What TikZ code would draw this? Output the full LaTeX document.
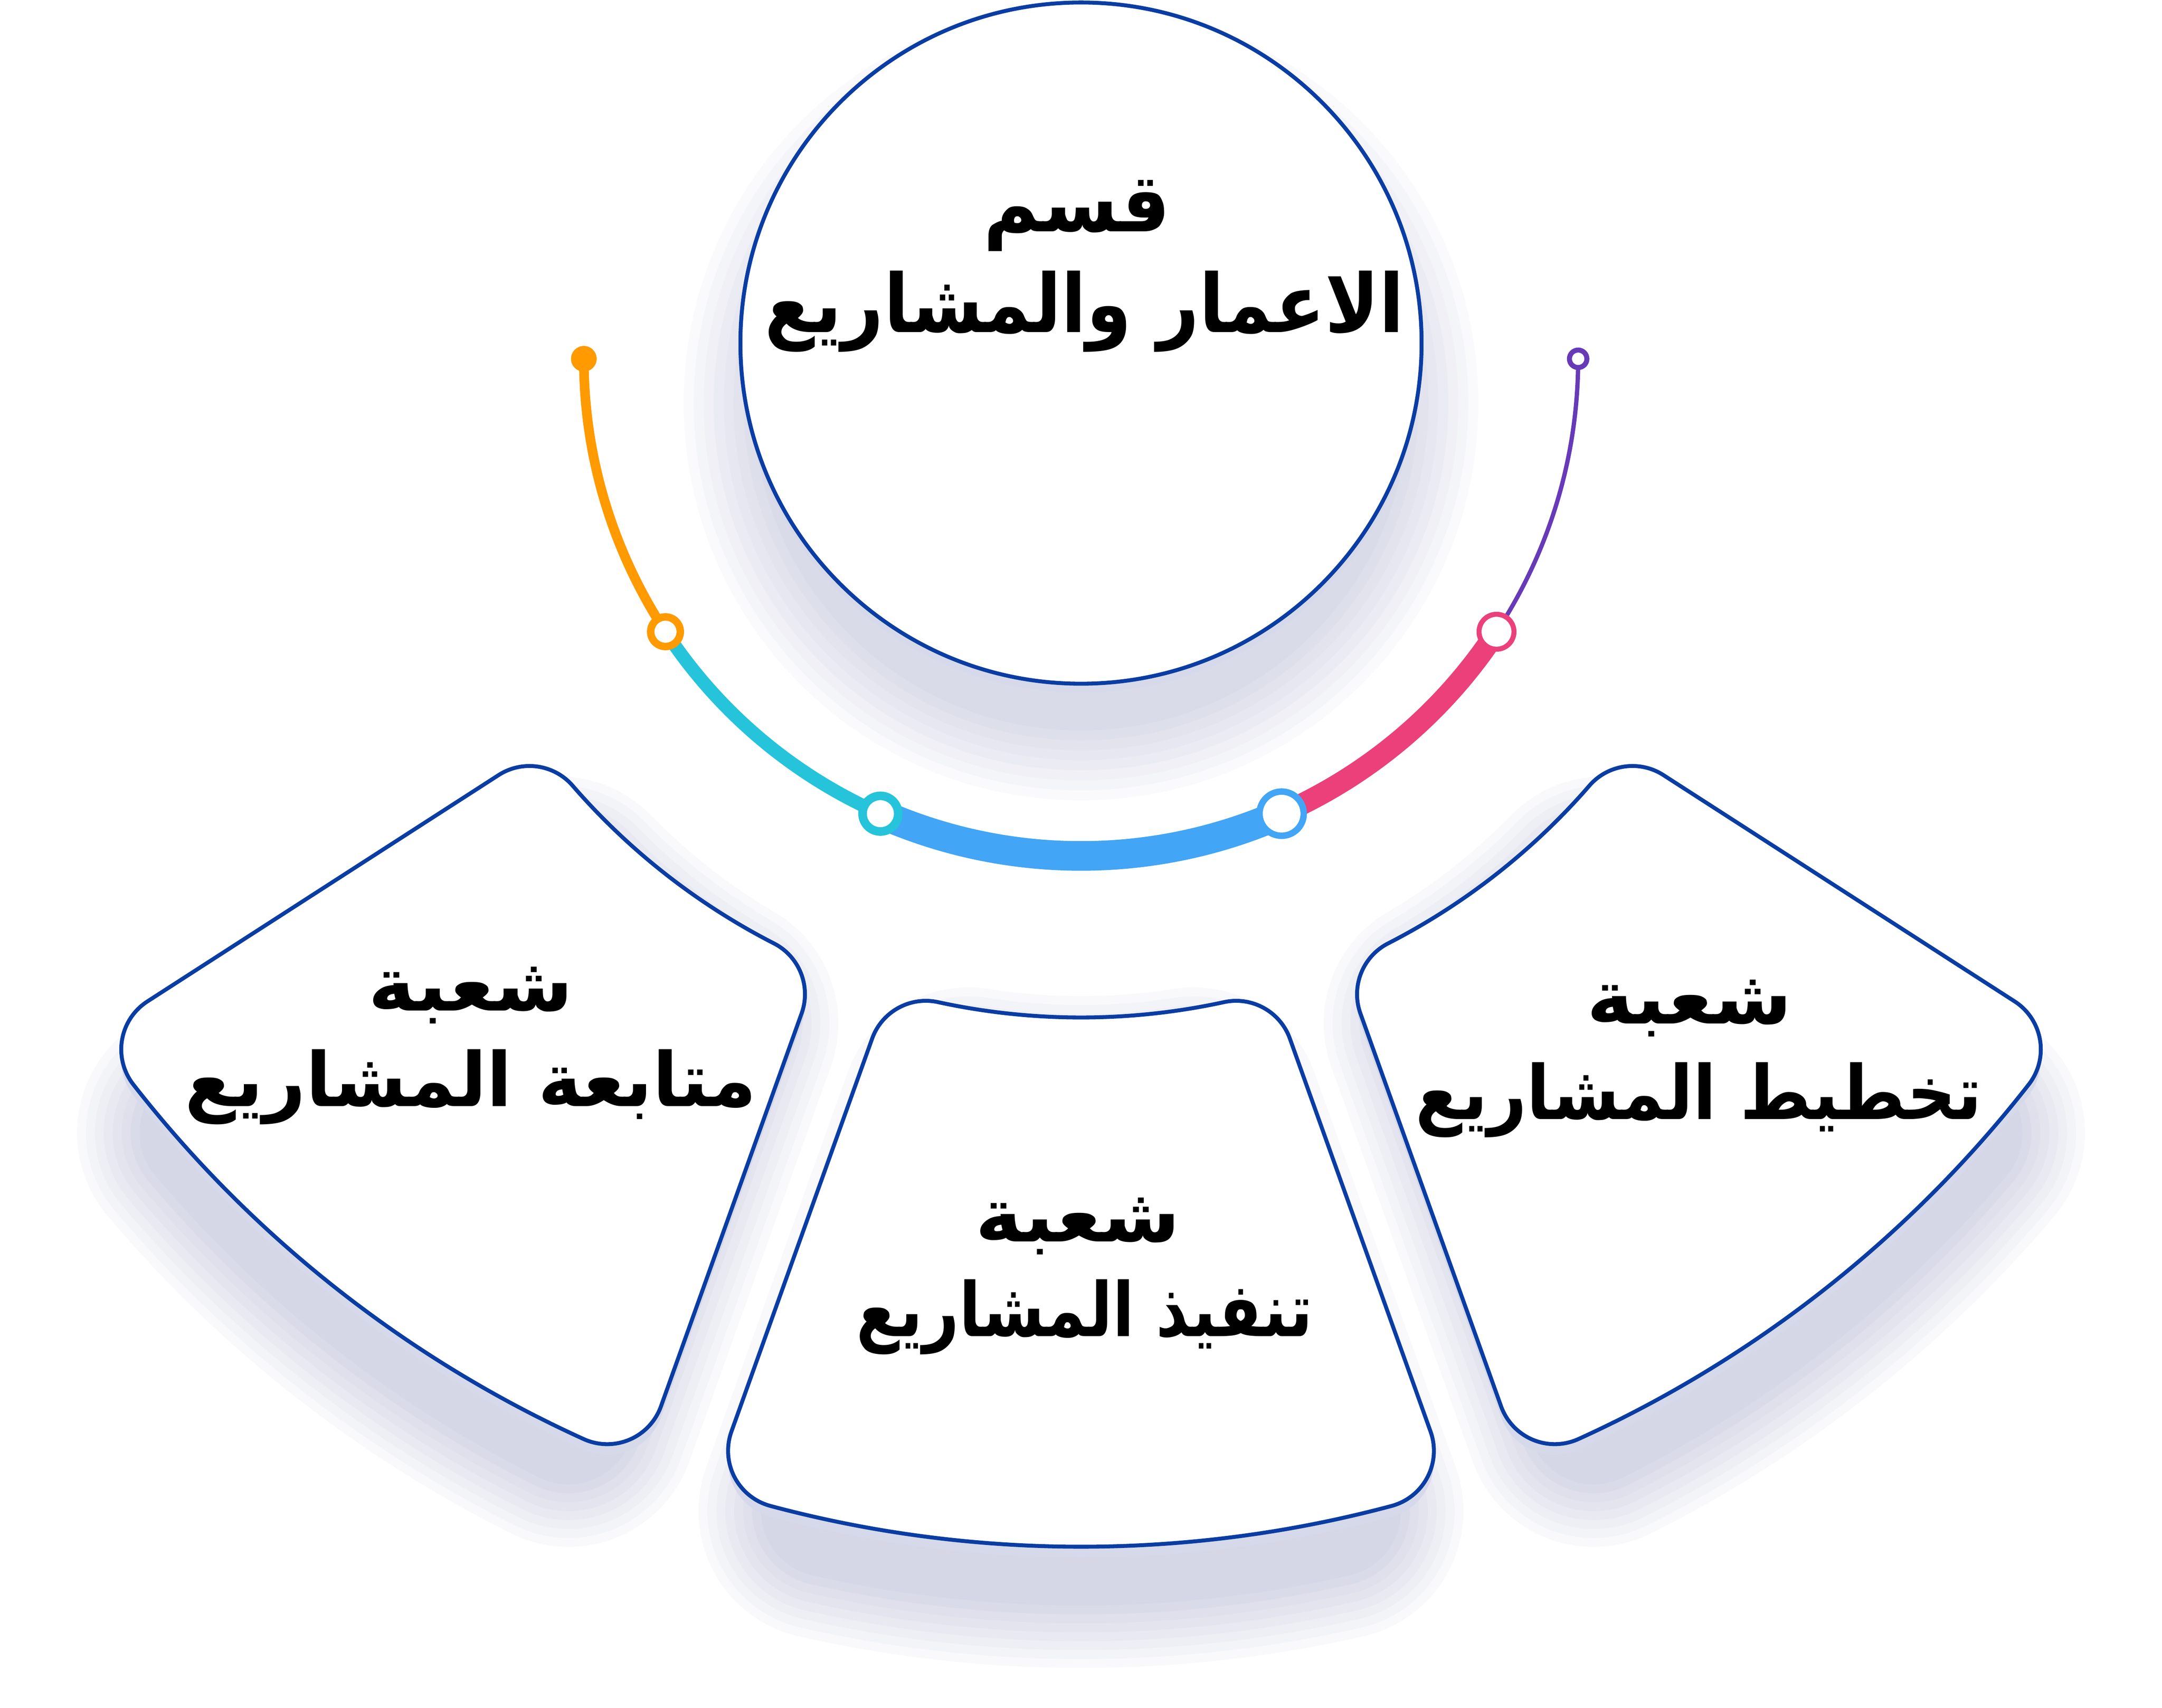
\documentclass[tikz,border=0pt]{standalone}
\usepackage{fontspec}
\TeXXeTstate=1
\newfontfamily\arabicfont[Script=Arabic]{DejaVu Sans}
\definecolor{edgeblue}{RGB}{10,61,163}
\definecolor{corange}{RGB}{255,154,0}
\definecolor{ccyan}{RGB}{37,196,218}
\definecolor{cblue}{RGB}{66,165,245}
\definecolor{cpink}{RGB}{236,64,122}
\definecolor{cpurple}{RGB}{103,58,183}
\definecolor{lipcol}{RGB}{213,217,233}
\definecolor{shadowcol}{RGB}{105,110,165}
\newcommand\CenX{30.31}
\newcommand\CenY{9.65}
\newcommand\RingIn{18.88}
\newcommand\RingOut{33.72}
\newcommand\FilR{1.6}
% #1 alpha, #2 beta, #3 h_alpha, #4 h_beta, #5 vertical shift, #6 path options
\newcommand\ringpiece[6]{%
  \pgfmathsetmacro\hA{#3}%
  \pgfmathsetmacro\hB{#4}%
  \pgfmathsetmacro\cyy{\CenY+#5}%
  \pgfmathsetmacro\pAi{#1+asin((\hA+\FilR)/(\RingIn+\FilR))}%
  \pgfmathsetmacro\pBi{#2-asin((\hB+\FilR)/(\RingIn+\FilR))}%
  \pgfmathsetmacro\pAo{#1+asin((\hA+\FilR)/(\RingOut-\FilR))}%
  \pgfmathsetmacro\pBo{#2-asin((\hB+\FilR)/(\RingOut-\FilR))}%
  \pgfmathsetmacro\tAi{sqrt((\RingIn+\FilR)^2-(\hA+\FilR)^2)}%
  \pgfmathsetmacro\tBo{sqrt((\RingOut-\FilR)^2-(\hB+\FilR)^2)}%
  \pgfmathsetmacro\sBi{\pBi+180}%
  \pgfmathsetmacro\eBi{#2+90}%
  \pgfmathsetmacro\eAo{#1-90}%
  \pgfmathsetmacro\eAi{\pAi-180}%
  \pgfmathsetmacro\xS{\CenX+\RingIn*cos(\pAi)}%
  \pgfmathsetmacro\yS{\cyy+\RingIn*sin(\pAi)}%
  \pgfmathsetmacro\xB{\CenX+\tBo*cos(#2)+\hB*cos(#2-90)}%
  \pgfmathsetmacro\yB{\cyy+\tBo*sin(#2)+\hB*sin(#2-90)}%
  \pgfmathsetmacro\xA{\CenX+\tAi*cos(#1)+\hA*cos(#1+90)}%
  \pgfmathsetmacro\yA{\cyy+\tAi*sin(#1)+\hA*sin(#1+90)}%
  \path[#6] (\xS,\yS)
    arc[start angle=\pAi, end angle=\pBi, radius=\RingIn]
    arc[start angle=\sBi, end angle=\eBi, radius=\FilR]
    -- (\xB,\yB)
    arc[start angle=\eBi, end angle=\pBo, radius=\FilR]
    arc[start angle=\pBo, end angle=\pAo, radius=\RingOut]
    arc[start angle=\pAo, end angle=\eAo, radius=\FilR]
    -- (\xA,\yA)
    arc[start angle=\eAo, end angle=\eAi, radius=\FilR]
    -- cycle;}
% #1 shift, #2 extra inset of the cut edges, #3 options
\newcommand\allpieces[3]{%
  \ringpiece{32.8}{70.3}{1.31+#2}{1.05+#2}{#1}{#3}%
  \ringpiece{70.3}{109.7}{1.05+#2}{1.05+#2}{#1}{#3}%
  \ringpiece{109.7}{147.2}{1.05+#2}{1.31+#2}{#1}{#3}}
\begin{document}
\begin{tikzpicture}[x=10pt,y=-10pt,
  lbl/.style={anchor=base, inner sep=0pt, font=\arabicfont\bfseries\fontsize{21pt}{25pt}\selectfont},
  lblbig/.style={anchor=base, inner sep=0pt, font=\arabicfont\bfseries\fontsize{22.7pt}{27pt}\selectfont},
  ring/.style={fill=white, line width=#1}]
\useasboundingbox (0,0) rectangle (60.62,47.89);
% soft shadows
\foreach \k in {1,...,8}{%
  \fill[shadowcol, opacity=0.035] (30.31,11.3) circle[radius={8.9+0.28*\k}];
  \begin{scope}[transparency group, opacity=0.04]
    \allpieces{1.4}{1.2}{fill=shadowcol, draw=shadowcol, line width=\k*5pt, line join=round}
  \end{scope}}
% lips
\fill[lipcol] (30.31,9.87) circle[radius=9.55];
\allpieces{0.3}{0}{fill=lipcol}
% pieces
\allpieces{0}{0}{fill=white, draw=edgeblue, line width=1.1pt}
% main circle
\coordinate (Cm) at (30.31,9.62);
\draw[fill=white, draw=edgeblue, line width=1.1pt] (Cm) circle[radius=9.55];
% coloured arc
\coordinate (e1) at (16.37,10.06);
\coordinate (j1) at ({30.31+13.94*cos(146.7)},{10.06+13.94*sin(146.7)});
\coordinate (j2) at ({30.31+13.94*cos(113.8)},{10.06+13.94*sin(113.8)});
\coordinate (j3) at ({30.31+13.94*cos(66.2)},{10.06+13.94*sin(66.2)});
\coordinate (j4) at ({30.31+13.94*cos(33.3)},{10.06+13.94*sin(33.3)});
\coordinate (e2) at (44.25,10.06);
\draw[corange, line width=2.7pt] (e1) arc[start angle=180, end angle=146.7, radius=13.94];
\draw[ccyan, line width=3.7pt] (j1) arc[start angle=146.7, end angle=113.8, radius=13.94];
\draw[cblue, line width=8.3pt] (j2) arc[start angle=113.8, end angle=66.2, radius=13.94];
\draw[cpink, line width=6pt] (j3) arc[start angle=66.2, end angle=33.3, radius=13.94];
\draw[cpurple, line width=1.2pt] (j4) arc[start angle=33.3, end angle=0, radius=13.94];
\fill[corange] (e1) circle[radius=0.36];
\draw[corange, ring=2.1pt] (j1) circle[radius=0.415];
\draw[ccyan, ring=2.4pt] (j2) circle[radius=0.50];
\draw[cblue, ring=1.8pt] (j3) circle[radius=0.62];
\draw[cpink, ring=1.4pt] (j4) circle[radius=0.49];
\draw[cpurple, ring=1.4pt] (e2) circle[radius=0.245];
% texts
\node[lblbig] (m1) at (30.20,6.49) {\scalebox{0.94}[1]{\beginR قسم\endR}};
\node[lblbig] (m2) at (30.41,9.32) {\scalebox{0.90}[1]{\beginR الاعمار والمشاريع\endR}};
\node[lbl] (l1) at (13.20,28.34) {\scalebox{1.07}[1]{\beginR شعبة\endR}};
\node[lbl] (l2) at (13.20,31.02) {\scalebox{0.99}[1]{\beginR متابعة المشاريع\endR}};
\node[lbl] (c1) at (30.22,34.82) {\scalebox{1.07}[1]{\beginR شعبة\endR}};
\node[lbl] (c2) at (30.41,37.47) {\scalebox{0.84}[1]{\beginR تنفيذ المشاريع\endR}};
\node[lbl] (r1) at (47.37,28.70) {\scalebox{1.07}[1]{\beginR شعبة\endR}};
\node[lbl] (r2) at (47.63,31.38) {\scalebox{0.91}[1]{\beginR تخطيط المشاريع\endR}};
\end{tikzpicture}
\end{document}
